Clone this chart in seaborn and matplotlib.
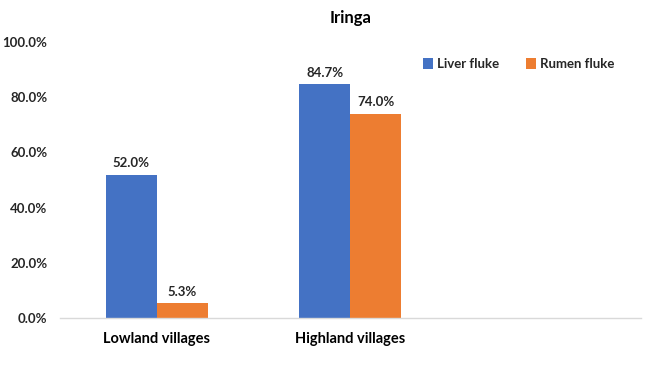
import matplotlib
matplotlib.use("Agg")
import matplotlib.pyplot as plt
import seaborn as sns
import pandas as pd

categories = ["Lowland villages", "Highland villages"]
series = ["Liver fluke", "Rumen fluke"]
liver_fluke = [52.0, 84.7]
rumen_fluke = [5.3, 74.0]
colors = ["#4472C4", "#ED7D31"]

df = pd.DataFrame({
    "category": categories * 2,
    "series": [series[0]] * 2 + [series[1]] * 2,
    "value": liver_fluke + rumen_fluke,
})

sns.set_theme(style="white")
plt.rcParams["font.family"] = ["Lato", "DejaVu Sans"]

fig = plt.figure(figsize=(6.5, 3.79), dpi=100)
ax = fig.add_axes([0.092, 0.161, 0.894, 0.728])

sns.barplot(data=df, x="category", y="value", hue="series", order=categories,
            hue_order=series, palette=colors, width=0.526, ax=ax,
            saturation=1, errorbar=None, edgecolor="none")

for cont in ax.containers:
    ax.bar_label(cont, labels=[f"{v:.1f}%" for v in cont.datavalues],
                 padding=4, fontsize=9.5, fontweight="bold", color="#262626")

ax.set_xlim(-0.5, 2.5)
ax.set_ylim(0, 100)
ax.set_yticks([0, 20, 40, 60, 80, 100])
ax.set_yticklabels([f"{v:.1f}%" for v in [0, 20, 40, 60, 80, 100]],
                   fontsize=9.5, fontweight="bold", color="#262626")
ax.set_xticks([0, 1])
ax.set_xticklabels(categories, fontsize=10.5, fontweight="bold", color="#000000")
ax.tick_params(axis="x", length=0, pad=10)
ax.tick_params(axis="y", length=0, pad=9)
ax.set_xlabel("")
ax.set_ylabel("")
for s in ["left", "right", "top"]:
    ax.spines[s].set_visible(False)
ax.spines["bottom"].set_color("#D9D9D9")
ax.spines["bottom"].set_linewidth(1)

ax.set_title("Iringa", fontsize=12, fontweight="bold", color="#000000", pad=14)

leg = ax.legend(loc="upper right", bbox_to_anchor=(0.975, 0.985), ncol=2, frameon=False,
                fontsize=9.5, handlelength=0.8, handleheight=0.8,
                handletextpad=0.3, columnspacing=2.0)
for t in leg.get_texts():
    t.set_fontweight("bold")
    t.set_color("#262626")

fig.savefig("out.png", dpi=100)
